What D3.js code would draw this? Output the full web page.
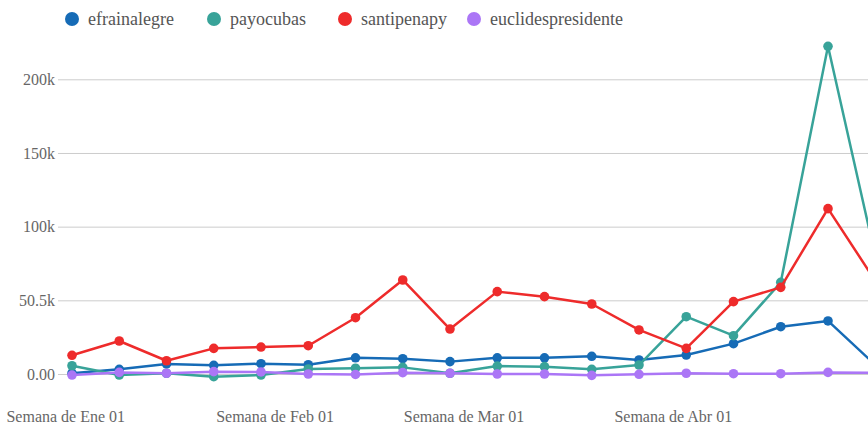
<!DOCTYPE html>
<html>
<head>
<meta charset="utf-8">
<script src="https://cdn.jsdelivr.net/npm/d3@7"></script>
<style>
  html, body { margin: 0; padding: 0; background: #fff; }
  svg { display: block; }
  svg text { font-family: "Liberation Serif", "Times New Roman", serif; }
</style>
</head>
<body>
<svg id="chart" width="868" height="425"></svg>
<script>
// ---- data ----
const weeks = ["2023-01-02","2023-01-09","2023-01-16","2023-01-23","2023-01-30","2023-02-06","2023-02-13","2023-02-20","2023-02-27","2023-03-06","2023-03-13","2023-03-20","2023-03-27","2023-04-03","2023-04-10","2023-04-17","2023-04-24","2023-05-01"];
const seriesNames = ["efrainalegre", "payocubas", "santipenapy", "euclidespresidente"];
const efrainalegre = [500, 3200, 6800, 5900, 7000, 6300, 11000, 10400, 8400, 11000, 11000, 12000, 9500, 12900, 20600, 32100, 36000, 6200];
const payocubas = [5600, -700, 500, -1800, -700, 3400, 3900, 4500, 500, 5400, 5000, 3200, 6100, 38900, 26000, 62200, 222400, 80000];
const santipenapy = [12700, 22400, 9000, 17400, 18300, 19200, 38200, 63800, 30500, 55900, 52500, 47500, 29900, 17400, 49100, 58800, 112200, 63300];
const euclidespresidente = [-700, 1100, 500, 1600, 1400, 0, -300, 900, 500, 0, 0, -900, -200, 500, 200, 200, 1100, 800];
const yTickValues = [0, 50000, 100000, 150000, 200000];
const yTickLabels = ["0.00", "50.5k", "100k", "150k", "200k"];
const xTickDates = ["2023-01-01", "2023-02-01", "2023-03-01", "2023-04-01"];
const xTickLabels = ["Semana de Ene 01", "Semana de Feb 01", "Semana de Mar 01", "Semana de Abr 01"];
const colors = ["#166bb6", "#38a399", "#ee2b2b", "#ab76f6"];

// ---- chart ----
const parse = d3.timeParse("%Y-%m-%d");
const dates = weeks.map(parse);
const allSeries = [efrainalegre, payocubas, santipenapy, euclidespresidente];

const svg = d3.select("#chart");
const W = 868, H = 425;
const fontFam = '"Liberation Serif", "Times New Roman", serif';

const x = d3.scaleTime()
  .domain([dates[0], dates[16]])
  .range([72, 828]);
const y = d3.scaleLinear()
  .domain([0, 200000])
  .range([374, 79.3]);

// y grid + labels
const yAxis = d3.axisLeft(y)
  .tickValues(yTickValues)
  .tickSize(-(W - 58))
  .tickPadding(3)
  .tickFormat((d, i) => yTickLabels[i]);
const gy = svg.append("g").attr("transform", "translate(58,0)").call(yAxis);
gy.attr("font-family", null);
gy.select(".domain").remove();
gy.selectAll(".tick line").attr("stroke", "#cccccc").attr("stroke-width", 1);
gy.selectAll(".tick text")
  .style("font-family", fontFam).style("font-size", "16px").attr("fill", "#666");

// x labels
const xAxis = d3.axisBottom(x)
  .tickValues(xTickDates.map(parse))
  .tickSize(0)
  .tickPadding(0)
  .tickFormat((d, i) => xTickLabels[i]);
const gx = svg.append("g").attr("transform", "translate(0,411)").call(xAxis);
gx.attr("font-family", null);
gx.select(".domain").remove();
gx.selectAll(".tick text")
  .style("font-family", fontFam).style("font-size", "16px").attr("fill", "#666")
  .attr("dy", "0.7em");

// lines + points
const line = d3.line().x((d, i) => x(dates[i])).y(d => y(d));
allSeries.forEach((vals, si) => {
  const g = svg.append("g");
  g.append("path")
    .attr("d", line(vals))
    .attr("fill", "none")
    .attr("stroke", colors[si])
    .attr("stroke-width", 2.5)
    .attr("stroke-linejoin", "round");
  g.selectAll("circle").data(vals).join("circle")
    .attr("cx", (d, i) => x(dates[i]))
    .attr("cy", d => y(d))
    .attr("r", 4.8)
    .attr("fill", colors[si]);
});

// legend
const legendX = [72, 214, 345, 474];
const lg = svg.append("g");
seriesNames.forEach((name, i) => {
  lg.append("circle").attr("cx", legendX[i]).attr("cy", 19).attr("r", 7).attr("fill", colors[i]);
  lg.append("text").attr("x", legendX[i] + 16).attr("y", 19).attr("dy", "0.35em")
    .style("font-family", fontFam).style("font-size", "18px").attr("fill", "#555")
    .text(name);
});
</script>
</body>
</html>
